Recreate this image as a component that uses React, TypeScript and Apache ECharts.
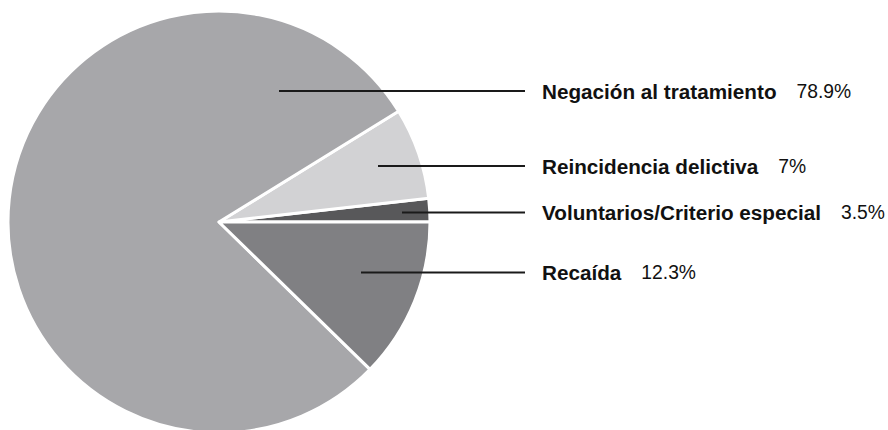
import React, { useEffect, useRef } from "react";
import * as echarts from "echarts";

const categories = ["Voluntarios/Criterio especial", "Reincidencia delictiva", "Negación al tratamiento", "Recaída"];
// slice sizes as drawn (angles)
const sliceValues = [1.8, 7.0, 78.9, 12.3];
// printed percentage labels
const percentLabels = ["3.5%", "7%", "78.9%", "12.3%"];
const colors = ["#58585a", "#d2d2d4", "#a7a7aa", "#808083"];

// label layout: line start x, label y
const lineStartX = [402, 378, 279, 361];
const labelY = [212.5, 166, 91, 272.5];
const lineEndX = 525;
const textX = 542;

export default function App() {
  const ref = useRef<HTMLDivElement>(null);
  useEffect(() => {
    if (!ref.current) return;
    document.body.style.margin = "0";
    const chart = echarts.init(ref.current, null, { renderer: "svg" });
    const data = categories.map((c, i) => ({
      name: c,
      value: sliceValues[i],
    }));
    const common = {
      type: "pie",
      center: [219, 222],
      radius: [0, 211],
      startAngle: 0,
      clockwise: false,
      avoidLabelOverlap: false,
      emphasis: { disabled: true },
      silent: true,
    };
    chart.setOption({
      animation: false,
      series: [
        {
          ...common,
          z: 2,
          data: data.map((d, i) => ({ ...d, itemStyle: { color: colors[i] } })),
          itemStyle: { borderColor: "#ffffff", borderWidth: 3 },
          label: { show: false },
          labelLine: { show: false },
        },
        {
          ...common,
          z: 5,
          data: data,
          itemStyle: { color: "rgba(0,0,0,0)", borderWidth: 0 },
          label: {
            show: true,
            position: "outside",
            formatter: (p: any) => `{b|${p.name}}{v|${percentLabels[p.dataIndex]}}`,
            rich: {
              b: { fontFamily: "Liberation Sans", fontWeight: "bold", fontSize: 20.7, color: "#111111" },
              v: { fontFamily: "Liberation Sans", fontSize: 19.3, color: "#111111", padding: [0, 0, 0, 20] },
            },
          },
          labelLine: { show: true, lineStyle: { color: "#1a1a1a", width: 2 } },
          labelLayout: (params: any) => {
            const i = params.dataIndex;
            const y = labelY[i];
            return {
              x: textX,
              y: y,
              align: "left",
              verticalAlign: "middle",
              labelLinePoints: [
                [lineStartX[i], y],
                [lineEndX, y],
                [lineEndX, y],
              ],
            };
          },
        },
      ],
    });
    return () => chart.dispose();
  }, []);
  return <div ref={ref} style={{ width: 888, height: 430 }} />;
}
